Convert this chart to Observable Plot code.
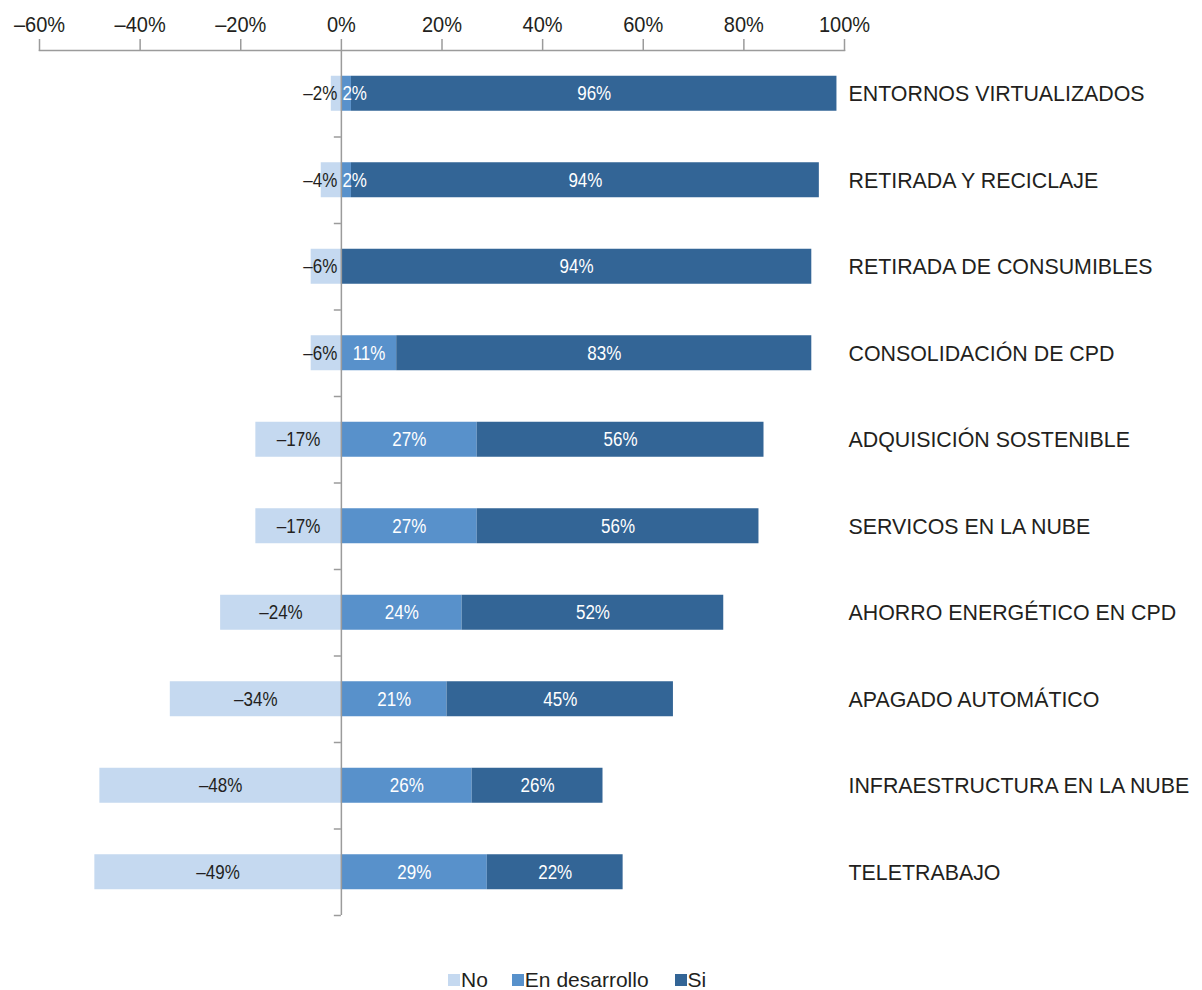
<!DOCTYPE html>
<html>
<head>
<meta charset="utf-8">
<script src="https://cdn.jsdelivr.net/npm/d3@7"></script>
<script src="https://cdn.jsdelivr.net/npm/@observablehq/plot@0.6"></script>
<style>
  html, body { margin: 0; padding: 0; background: #ffffff; }
  #wrap { position: relative; width: 1202px; height: 990px; font-family: "Liberation Sans", Arial, sans-serif; color: #231F20; }
  #chart svg { display: block; }
  #legend { position: absolute; top: 969px; left: 448px; display: flex; align-items: center; font-size: 21px; line-height: 21px; }
  #legend .item { display: flex; align-items: center; }
  #legend .sw { width: 12px; height: 12px; margin-right: 1px; }
</style>
</head>
<body>
<div id="wrap"><div id="chart"></div><div id="legend"></div></div>
<script>
// ---- data ----
const categories = [
  "ENTORNOS VIRTUALIZADOS",
  "RETIRADA Y RECICLAJE",
  "RETIRADA DE CONSUMIBLES",
  "CONSOLIDACIÓN DE CPD",
  "ADQUISICIÓN SOSTENIBLE",
  "SERVICOS EN LA NUBE",
  "AHORRO ENERGÉTICO EN CPD",
  "APAGADO AUTOMÁTICO",
  "INFRAESTRUCTURA EN LA NUBE",
  "TELETRABAJO"
];
const seriesNames = ["No", "En desarrollo", "Si"];
// bar lengths as drawn (%)
const noValues  = [-2, -4, -6, -6, -17, -17, -24, -34, -48, -49];
const devValues = [2, 2, 0, 11, 27, 27, 24, 21, 26, 29];
const siValues  = [96.5, 93, 93.5, 82.5, 57, 56, 52, 45, 26, 27];
// printed data labels (%)
const noLabels  = [-2, -4, -6, -6, -17, -17, -24, -34, -48, -49];
const devLabels = [2, 2, 0, 11, 27, 27, 24, 21, 26, 29];
const siLabels  = [96, 94, 94, 83, 56, 56, 52, 45, 26, 22];
const xTicks = [-60, -40, -20, 0, 20, 40, 60, 80, 100];
const seriesColors = ["#C5D9F0", "#5891CB", "#336596"];

// ---- build table ----
const pct = d => (d < 0 ? "\u2013" : "") + Math.abs(d) + "%";
const rows = [];
categories.forEach((c, i) => {
  rows.push({cat: c, series: "No", value: noValues[i], label: noLabels[i]});
  rows.push({cat: c, series: "En desarrollo", value: devValues[i], label: devLabels[i]});
  rows.push({cat: c, series: "Si", value: siValues[i], label: siLabels[i]});
});
const isSmall = d => Math.abs(d.label) < 10 && d.series !== "Si";

const dark = "#231F20";
const axisGray = "#9B9B9B";
const labelSize = 21;
const W = 1202, H = 940, mTop = 50, mBottom = 25;
const step = (H - mTop - mBottom) / categories.length;
const barH = 35;
const inset = (step - barH) / 2;

const stackOpts = {y: "cat", x: "value", z: "series", order: seriesNames};

const chart = Plot.plot({
  width: W,
  height: H,
  marginTop: mTop,
  marginBottom: mBottom,
  marginLeft: 39,
  marginRight: 358,
  style: {fontFamily: "'Liberation Sans', Arial, sans-serif", color: dark, background: "#ffffff", overflow: "visible"},
  x: {domain: [-60, 100], label: null},
  y: {domain: categories, padding: 0, round: false, label: null},
  color: {domain: seriesNames, range: seriesColors},
  marks: [
    Plot.barX(rows, Plot.stackX({...stackOpts, fill: "series", insetTop: inset, insetBottom: inset})),
    // centered labels
    Plot.text(rows, Plot.stackX({
      ...stackOpts,
      text: d => (isSmall(d) || d.label === 0) ? null : pct(d.label),
      fill: d => d.series === "No" ? dark : "#ffffff",
      fontSize: labelSize, className: "vlabel"
    })),
    // small "No" labels, right-aligned at the zero line
    Plot.text(rows, Plot.stackX1({
      ...stackOpts,
      text: d => (isSmall(d) && d.series === "No" && d.label !== 0) ? pct(d.label) : null,
      fill: dark, textAnchor: "end", dx: -4, fontSize: labelSize, className: "vlabel"
    })),
    // small "En desarrollo" labels, left-aligned at the zero line
    Plot.text(rows, Plot.stackX1({
      ...stackOpts,
      text: d => (isSmall(d) && d.series === "En desarrollo" && d.label !== 0) ? pct(d.label) : null,
      fill: "#ffffff", textAnchor: "start", dx: 1, fontSize: labelSize, className: "vlabel"
    })),
    // zero line
    Plot.ruleX([0], {stroke: axisGray, strokeWidth: 1.5}),
    // category boundary ticks on the zero line
    Plot.ruleY(categories, {y: d => d, x1: -1.4, x2: 0, dy: step / 2, stroke: axisGray, strokeWidth: 1.5}),
    // top axis line
    Plot.frame({anchor: "top", stroke: axisGray, strokeWidth: 1.5}),
    Plot.axisX({anchor: "top", ticks: xTicks, tickFormat: pct, tickSize: 12, tickPadding: 7,
      fontSize: 22, stroke: axisGray, strokeWidth: 1.5, fill: dark, label: null, className: "xlab"}),
    Plot.axisY({anchor: "right", tickSize: 0, tickPadding: 4, fontSize: 23, fill: dark, textAnchor: "start", label: null, className: "ylab"})
  ]
});
document.getElementById("chart").appendChild(chart);

// the reference typeface is a condensed grotesque: narrow the glyphs horizontally
function condense(root, k) {
  root.querySelectorAll("text").forEach(t => {
    const tr = t.getAttribute("transform") || "";
    const xa = t.getAttribute("x");
    const x = xa !== null && isFinite(+xa) ? +xa : 0;
    if (xa !== null && isFinite(+xa)) t.setAttribute("x", 0);
    t.querySelectorAll("tspan[x]").forEach(s => { if (isFinite(+s.getAttribute("x"))) s.setAttribute("x", 0); });
    t.setAttribute("transform", `${tr} translate(${x},0) scale(${k},1)`.trim());
  });
}
chart.querySelectorAll("g.vlabel").forEach(g => condense(g, 0.81));
chart.querySelectorAll("g.xlab").forEach(g => condense(g, 0.91));
chart.querySelectorAll("g.ylab").forEach(g => condense(g, 0.93));

// ---- legend ----
const legend = document.getElementById("legend");
const gaps = [24, 26, 0];
seriesNames.forEach((s, i) => {
  const item = document.createElement("div");
  item.className = "item";
  item.style.marginRight = gaps[i] + "px";
  const sw = document.createElement("span");
  sw.className = "sw";
  sw.style.background = seriesColors[i];
  const tx = document.createElement("span");
  tx.textContent = s;
  item.appendChild(sw);
  item.appendChild(tx);
  legend.appendChild(item);
});
</script>
</body>
</html>
